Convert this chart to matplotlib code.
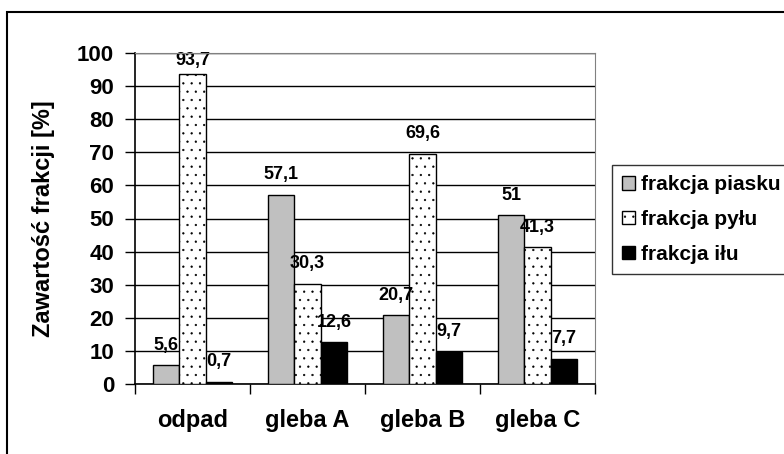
from matplotlib import pyplot as plt
from matplotlib.patches import Rectangle
import numpy as np

# data
groups = ["odpad", "gleba A", "gleba B", "gleba C"]
series_names = ["frakcja piasku", "frakcja pyłu", "frakcja iłu"]
piasek = [5.6, 57.1, 20.7, 51]
pyl = [93.7, 30.3, 69.6, 41.3]
il = [0.7, 12.6, 9.7, 7.7]
yticks = [0, 10, 20, 30, 40, 50, 60, 70, 80, 90, 100]

plt.rcParams['font.family'] = ['Liberation Sans', 'DejaVu Sans']
plt.rcParams['font.weight'] = 'bold'
plt.rcParams['hatch.linewidth'] = 0.4
plt.rcParams['hatch.color'] = '#555555'

fig = plt.figure(figsize=(7.84, 4.54), dpi=100)
ax = fig.add_axes([135 / 784, 1 - 384 / 454, (595 - 135) / 784, (384 - 53) / 454])

x = np.arange(len(groups)) + 0.5
w = 0.23

def fmt(v):
    s = ("%g" % v).replace(".", ",")
    return s

b1 = ax.bar(x - w, piasek, w, color="#c0c0c0", edgecolor="black", linewidth=1, label=series_names[0], zorder=3)
b2 = ax.bar(x, pyl, w, color="white", edgecolor="black", hatch="..", linewidth=1, label=series_names[1], zorder=3)
b3 = ax.bar(x + w, il, w, color="black", edgecolor="black", linewidth=1, label=series_names[2], zorder=3)

# value labels above bars (kept inside the plot near the top, as Excel does)
for bars, vals in [(b1, piasek), (b2, pyl), (b3, il)]:
    for rect, v in zip(bars, vals):
        ax.text(rect.get_x() + rect.get_width() / 2, min(v + 3.5, 95.3), fmt(v),
                ha="center", va="bottom", fontsize=13, fontweight="bold", zorder=4)

ax.set_xlim(0, len(groups))
ax.set_ylim(0, 100)
ax.set_yticks(yticks)
ax.set_yticklabels([str(t) for t in yticks], fontsize=16, fontweight="bold")
ax.yaxis.grid(True, color="black", linewidth=1, zorder=0)

# x ticks at group boundaries, labels in the middle
ax.set_xticks(np.arange(len(groups) + 1))
ax.set_xticklabels([])
ax.set_xticks(x, minor=True)
ax.set_xticklabels(groups, minor=True, fontsize=17, fontweight="bold")
ax.tick_params(axis="x", which="minor", length=0, pad=18)
ax.tick_params(axis="x", which="major", length=7, width=1, direction="out")
ax.tick_params(axis="y", length=7, width=1, direction="out", pad=8)

ax.spines["top"].set_color("gray")
ax.spines["right"].set_color("gray")
ax.spines["top"].set_zorder(5)
ax.spines["left"].set_linewidth(1.2)
ax.spines["bottom"].set_linewidth(1.2)

ax.set_ylabel("Zawartość frakcji [%]", fontsize=17, fontweight="bold", labelpad=16)

leg = ax.legend(loc="upper left", bbox_to_anchor=(612 / 784, 1 - 165 / 454),
                bbox_transform=fig.transFigure, fontsize=15, frameon=True,
                fancybox=False, edgecolor="black", handlelength=0.6, handleheight=0.6,
                handletextpad=0.3, borderpad=0.5, labelspacing=0.75, borderaxespad=0)
leg.get_frame().set_linewidth(1)
for t in leg.get_texts():
    t.set_fontweight("bold")

# outer chart border (only left and top visible in the reference)
fig.patches.append(Rectangle((7 / 784, -0.1), 1.2, 1 - 12 / 454 + 0.1, transform=fig.transFigure,
                             fill=False, edgecolor="black", linewidth=1.5))

plt.savefig("out.png", dpi=100)
